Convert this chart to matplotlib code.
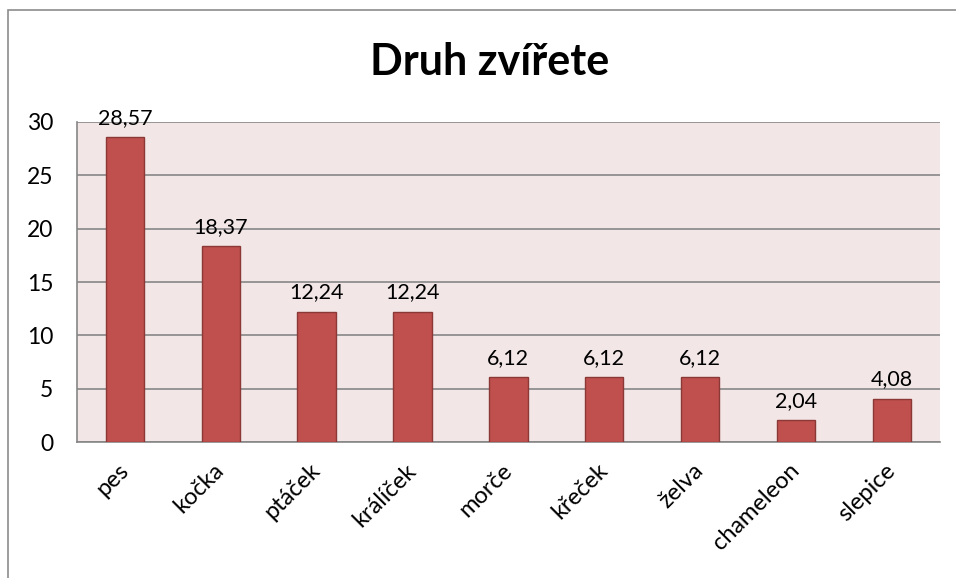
import matplotlib.pyplot as plt
from matplotlib.patches import Rectangle

# data
druhy = ['pes', 'kočka', 'ptáček', 'králíček', 'morče', 'křeček', 'želva', 'chameleon', 'slepice']
procenta = [28.57, 18.37, 12.24, 12.24, 6.12, 6.12, 6.12, 2.04, 4.08]
yticks = [0, 5, 10, 15, 20, 25, 30]

plt.rcParams['font.family'] = ['Lato', 'DejaVu Sans']

fig = plt.figure(figsize=(9.56, 5.78), dpi=100)
ax = fig.add_axes([0.0805, 0.235, 0.9025, 0.554])

# outer chart border like in the office chart
fig.patches.append(Rectangle((8 / 956, -0.1), 1.2, 1 - 10 / 578 + 0.1,
                             transform=fig.transFigure, fill=False,
                             edgecolor='#8c8c8c', linewidth=1.2))

x = range(len(druhy))
bars = ax.bar(x, procenta, width=0.4, color='#C0504D', edgecolor='#8C3836',
              linewidth=1, zorder=3)

for i, v in enumerate(procenta):
    ax.text(i, v + 0.85, f'{v:.2f}'.replace('.', ','), ha='center', va='bottom',
            fontsize=15.5, color='black')

ax.set_facecolor('#F2E6E6')
ax.set_xlim(-0.5, len(druhy) - 0.5)
ax.set_ylim(0, 30)
ax.set_yticks(yticks)
ax.yaxis.grid(True, color='#868686', linewidth=1.2, zorder=0)
ax.set_axisbelow(True)
ax.tick_params(axis='y', length=0, labelsize=16.5, pad=17)
ax.tick_params(axis='x', length=0, labelsize=17, pad=18)
ax.set_xticks(list(x))
ax.set_xticklabels(druhy, rotation=45, ha='right', va='center', rotation_mode='anchor')
for s in ['top', 'right']:
    ax.spines[s].set_visible(False)
ax.spines['left'].set_color('#868686')
ax.spines['bottom'].set_color('#868686')
ax.spines['left'].set_linewidth(1.2)
ax.spines['bottom'].set_linewidth(1.2)

fig.text(0.512, 0.893, 'Druh zvířete', ha='center', va='center',
         fontsize=31, fontweight='bold')

fig.savefig('out.png', dpi=100)
